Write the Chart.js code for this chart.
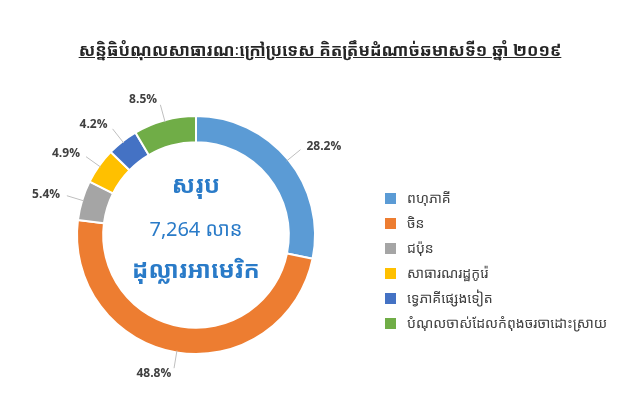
<!DOCTYPE html>
<html>
<head>
<meta charset="utf-8">
<script src="https://cdn.jsdelivr.net/npm/chart.js@4.4.0/dist/chart.umd.min.js"></script>
<style>
  html, body { margin: 0; padding: 0; background: #fff; }
  #wrap { position: relative; width: 640px; height: 394px; overflow: hidden; }
  #title {
    position: absolute; left: 0; top: 38px; width: 640px; text-align: center;
    font: bold 17px "Noto Sans Khmer", "Khmer OS", "Noto Sans", sans-serif;
    color: #262626; text-decoration: underline; white-space: nowrap;
  }
  #legend { position: absolute; left: 385px; top: 188px; margin: 0; padding: 0; list-style: none; }
  #legend li {
    height: 25px; line-height: 25px; white-space: nowrap;
    font: 14px "Noto Sans Khmer", "Khmer OS", "Noto Sans", sans-serif; color: #404040;
  }
  #legend span { display: inline-block; width: 11px; height: 11px; margin-right: 11px; vertical-align: -1px; }
</style>
</head>
<body>
<div id="wrap">
  <div id="title">សន្និធិបំណុលសាធារណៈក្រៅប្រទេស គិតត្រឹមដំណាច់ឆមាសទី១ ឆ្នាំ ២០១៩</div>
  <canvas id="chart" width="640" height="394"></canvas>
  <ul id="legend"></ul>
</div>
<script>
const categories = [
  "ពហុភាគី",
  "ចិន",
  "ជប៉ុន",
  "សាធារណរដ្ឋកូរ៉េ",
  "ទ្វេភាគីផ្សេងទៀត",
  "បំណុលចាស់ដែលកំពុងចរចាដោះស្រាយ",
];
const shares = [28.2, 48.8, 5.4, 4.9, 4.2, 8.5];
const colors = ["#5B9BD5", "#ED7D31", "#A5A5A5", "#FFC000", "#4472C4", "#70AD47"];
const centerLines = ["សរុប", "7,264 លាន", "ដុល្លារអាមេរិក"];

const khmerFont = '"Noto Sans Khmer", "Khmer OS", "Noto Sans", sans-serif';

// percentage labels with short leader lines, placed outside each slice
const sliceLabels = {
  id: "sliceLabels",
  afterDatasetsDraw(chart) {
    const ctx = chart.ctx;
    const meta = chart.getDatasetMeta(0);
    ctx.save();
    meta.data.forEach((arc, i) => {
      const mid = (arc.startAngle + arc.endAngle) / 2;
      const r = arc.outerRadius;
      const cos = Math.cos(mid);
      const sin = Math.sin(mid);
      ctx.strokeStyle = "#BFBFBF";
      ctx.lineWidth = 1;
      ctx.beginPath();
      ctx.moveTo(arc.x + cos * (r - 2), arc.y + sin * (r - 2));
      ctx.lineTo(arc.x + cos * (r + 16), arc.y + sin * (r + 16));
      ctx.stroke();
      const lx = arc.x + cos * (r + 21);
      const ly = arc.y + sin * (r + 21);
      ctx.font = "bold 12px 'Open Sans', sans-serif";
      ctx.fillStyle = "#404040";
      ctx.textBaseline = "middle";
      ctx.textAlign = cos >= 0 ? "left" : "right";
      ctx.fillText(shares[i].toFixed(1) + "%", lx + (cos >= 0 ? 2 : -2), ly);
    });
    ctx.restore();
  },
};

const centerText = {
  id: "centerText",
  afterDatasetsDraw(chart) {
    const arc = chart.getDatasetMeta(0).data[0];
    const ctx = chart.ctx;
    ctx.save();
    ctx.fillStyle = "#2A7BC8";
    ctx.textAlign = "center";
    ctx.textBaseline = "middle";
    ctx.font = "bold 24px " + khmerFont;
    ctx.fillText(centerLines[0], arc.x, arc.y - 49);
    ctx.font = "20px " + khmerFont;
    ctx.fillText(centerLines[1], arc.x, arc.y - 5);
    ctx.font = "bold 24px " + khmerFont;
    ctx.fillText(centerLines[2], arc.x, arc.y + 36);
    ctx.restore();
  },
};

const chart = new Chart(document.getElementById("chart"), {
  type: "doughnut",
  data: {
    labels: categories,
    datasets: [
      {
        data: shares,
        backgroundColor: colors,
        borderColor: "#FFFFFF",
        borderWidth: 2,
      },
    ],
  },
  options: {
    responsive: false,
    animation: false,
    cutout: "78%",
    layout: { padding: { left: 76, right: 324, top: 115, bottom: 39 } },
    plugins: {
      legend: { display: false },
      tooltip: { enabled: false },
    },
  },
  plugins: [sliceLabels, centerText],
});

const legend = document.getElementById("legend");
chart.data.labels.forEach((label, i) => {
  const li = document.createElement("li");
  const box = document.createElement("span");
  box.style.background = colors[i];
  li.appendChild(box);
  li.appendChild(document.createTextNode(label));
  legend.appendChild(li);
});
</script>
</body>
</html>
